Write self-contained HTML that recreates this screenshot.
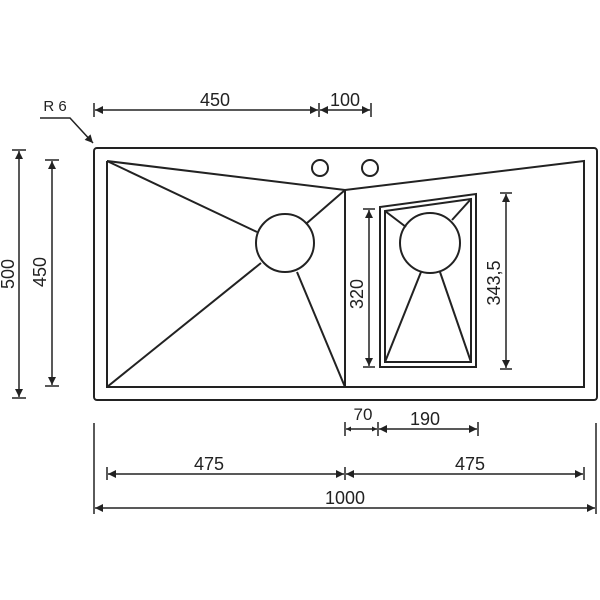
<!DOCTYPE html>
<html><head><style>body{margin:0;background:#fff}svg{display:block}</style></head><body>
<svg width="600" height="600" viewBox="0 0 600 600" xmlns="http://www.w3.org/2000/svg" font-family="Liberation Sans, sans-serif" font-size="18" fill="#222">
<defs>
<marker id="a" viewBox="0 0 10 10" refX="10" refY="5" markerWidth="12" markerHeight="8" markerUnits="userSpaceOnUse" orient="auto-start-reverse"><path d="M0,0L10,5L0,10z" fill="#222"/></marker>
<marker id="s" viewBox="0 0 10 10" refX="10" refY="5" markerWidth="6" markerHeight="5" markerUnits="userSpaceOnUse" orient="auto-start-reverse"><path d="M0,0L10,5L0,10z" fill="#222"/></marker>
</defs>
<g stroke="#222" stroke-width="2" fill="none">
<rect x="94" y="148" width="503" height="252" rx="3"/>
<polyline points="107,161 345,190 584,161 584,387 107,387 107,161"/>
<line x1="345" y1="190" x2="345" y2="387"/>
<circle cx="285" cy="243" r="29"/>
<line x1="107" y1="161" x2="257" y2="232"/>
<line x1="107" y1="387" x2="261" y2="263"/>
<line x1="345" y1="190" x2="307" y2="223"/>
<line x1="345" y1="387" x2="297" y2="272"/>
<circle cx="320" cy="168" r="8"/>
<circle cx="370" cy="168" r="8"/>
<polygon points="380,207 476,194 476,367 380,367"/>
<polygon points="385,211 471,199 471,362 385,362" stroke-width="2"/>
<circle cx="430" cy="243" r="30"/>
<line x1="385" y1="211" x2="406" y2="227"/>
<line x1="471" y1="199" x2="452" y2="220"/>
<line x1="385" y1="362" x2="421" y2="272"/>
<line x1="471" y1="362" x2="440" y2="272"/>
</g>
<g stroke="#222" stroke-width="1.5" fill="none">
<line x1="94" y1="103" x2="94" y2="117"/><line x1="319" y1="103" x2="319" y2="117"/><line x1="371" y1="103" x2="371" y2="117"/>
<line x1="95" y1="110" x2="318" y2="110" marker-start="url(#a)" marker-end="url(#a)"/>
<line x1="320" y1="110" x2="370" y2="110" marker-start="url(#a)" marker-end="url(#a)"/>
<polyline points="40,118 70,118 93,143" marker-end="url(#a)"/>
<line x1="12" y1="150" x2="26" y2="150"/><line x1="12" y1="398" x2="26" y2="398"/>
<line x1="19" y1="151" x2="19" y2="397" marker-start="url(#a)" marker-end="url(#a)"/>
<line x1="45" y1="160" x2="59" y2="160"/><line x1="45" y1="386" x2="59" y2="386"/>
<line x1="52" y1="161" x2="52" y2="385" marker-start="url(#a)" marker-end="url(#a)"/>
<line x1="363" y1="209" x2="375" y2="209"/><line x1="363" y1="367" x2="375" y2="367"/>
<line x1="369" y1="210" x2="369" y2="366" marker-start="url(#a)" marker-end="url(#a)"/>
<line x1="500" y1="193" x2="512" y2="193"/><line x1="500" y1="369" x2="512" y2="369"/>
<line x1="506" y1="194" x2="506" y2="368" marker-start="url(#a)" marker-end="url(#a)"/>
<line x1="94" y1="423" x2="94" y2="514"/><line x1="596" y1="423" x2="596" y2="514"/>
<line x1="95" y1="508" x2="595" y2="508" marker-start="url(#a)" marker-end="url(#a)"/>
<line x1="107" y1="467" x2="107" y2="480"/><line x1="345" y1="467" x2="345" y2="480"/><line x1="584" y1="467" x2="584" y2="480"/>
<line x1="108" y1="474" x2="344" y2="474" marker-start="url(#a)" marker-end="url(#a)"/>
<line x1="346" y1="474" x2="583" y2="474" marker-start="url(#a)" marker-end="url(#a)"/>
<line x1="345" y1="422" x2="345" y2="436"/><line x1="378" y1="422" x2="378" y2="436"/><line x1="478" y1="422" x2="478" y2="436"/>
<line x1="346" y1="429" x2="377" y2="429" marker-start="url(#s)" marker-end="url(#s)"/>
<line x1="379" y1="429" x2="477" y2="429" marker-start="url(#a)" marker-end="url(#a)"/>
</g>
<g text-anchor="middle">
<text x="215" y="106">450</text>
<text x="345" y="106">100</text>
<text x="55" y="111" font-size="15">R 6</text>
<text x="363" y="420" font-size="17">70</text>
<text x="425" y="425">190</text>
<text x="209" y="470">475</text>
<text x="470" y="470">475</text>
<text x="345" y="504">1000</text>
<text transform="translate(14,274) rotate(-90)">500</text>
<text transform="translate(46,272) rotate(-90)">450</text>
<text transform="translate(363,294) rotate(-90)">320</text>
<text transform="translate(500,283) rotate(-90)">343,5</text>
</g>
</svg>
</body></html>
